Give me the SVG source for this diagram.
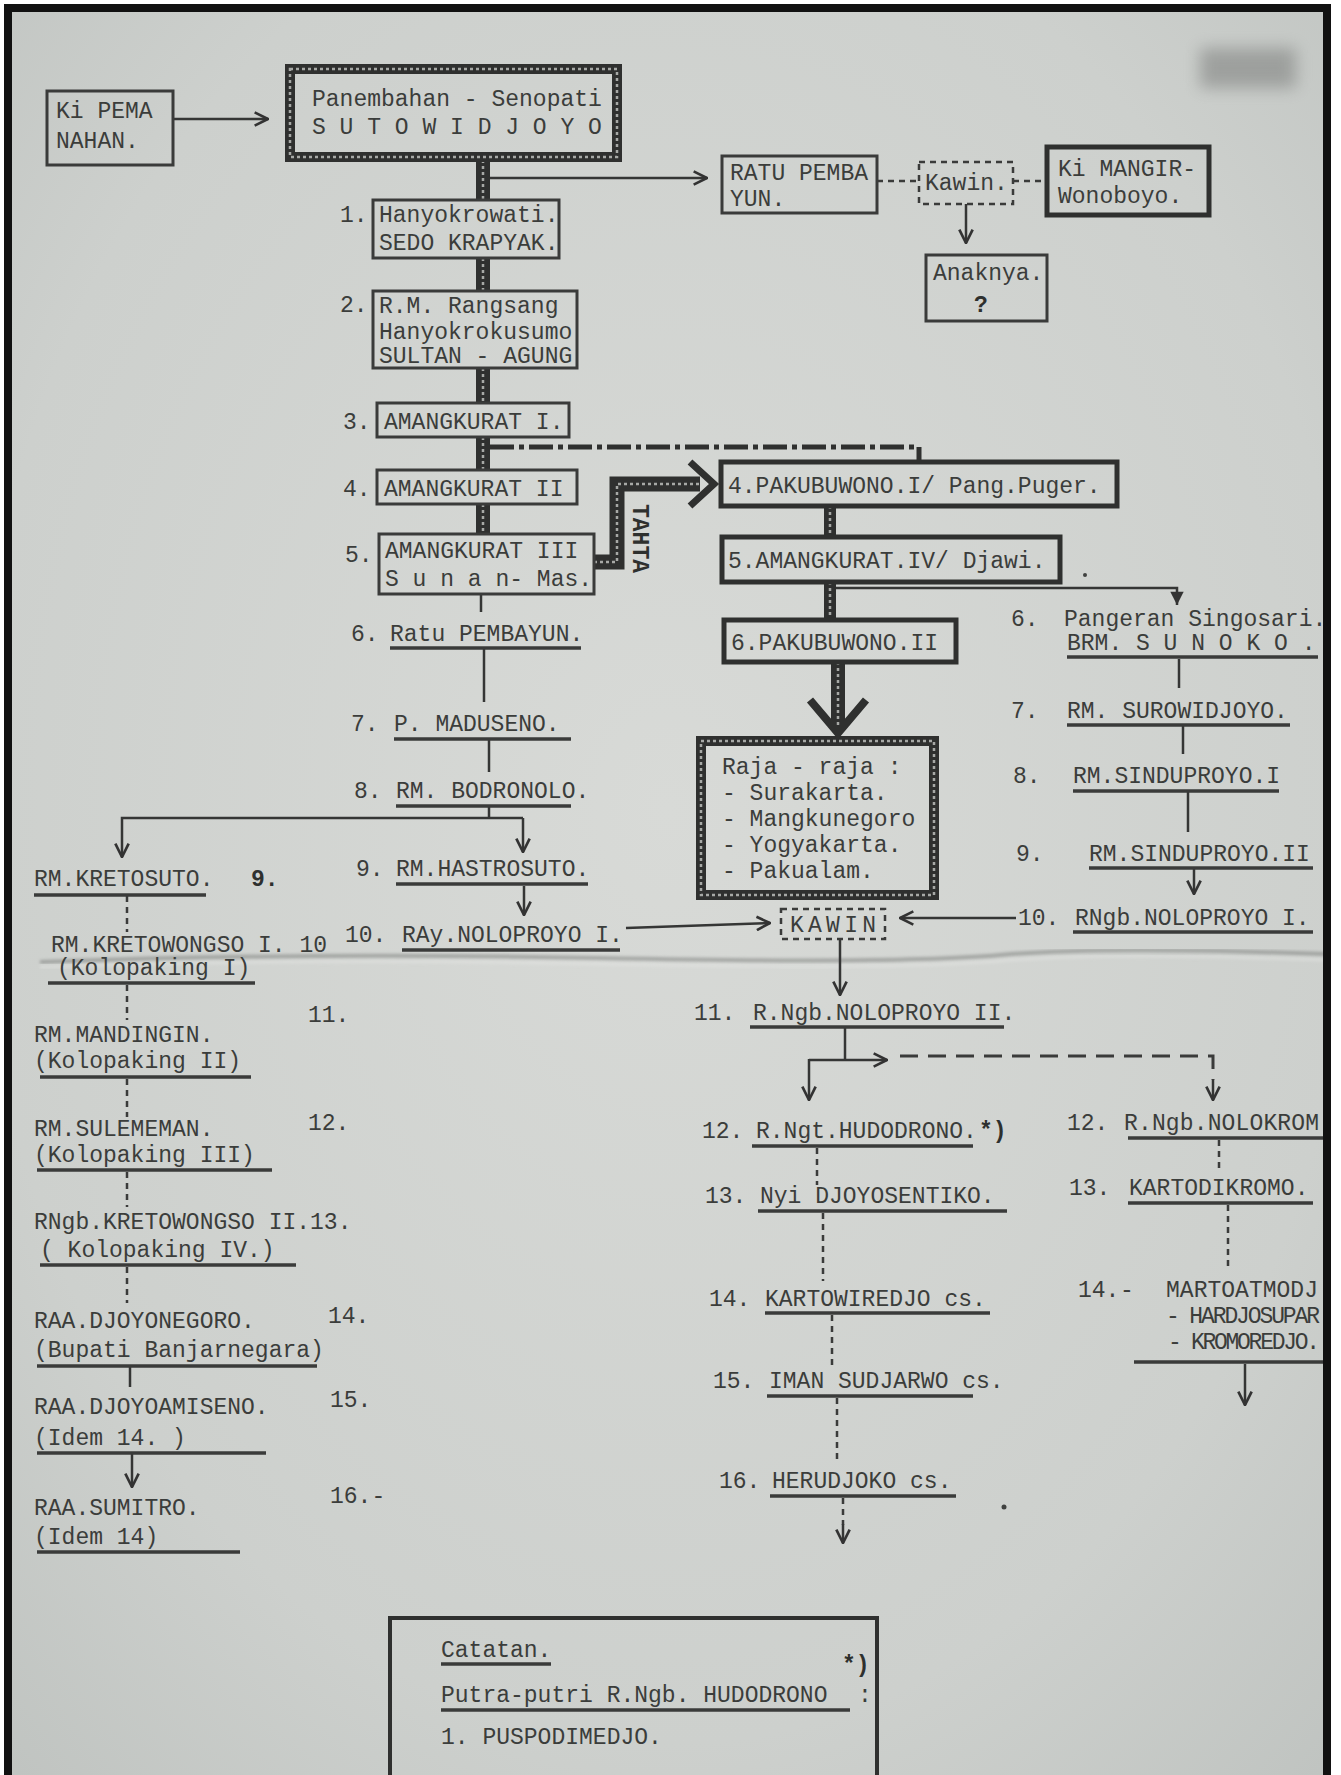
<svg xmlns="http://www.w3.org/2000/svg" width="1341" height="1775" viewBox="0 0 1341 1775">
<defs>
<radialGradient id="paper" cx="0.5" cy="0.45" r="0.75">
<stop offset="0" stop-color="#d8dad7"/>
<stop offset="0.7" stop-color="#cdd0cd"/>
<stop offset="1" stop-color="#bfc3c0"/>
</radialGradient>
<filter id="blur" x="-50%" y="-50%" width="200%" height="200%"><feGaussianBlur stdDeviation="8"/></filter>
<filter id="soft"><feGaussianBlur stdDeviation="1.5"/></filter>
<marker id="ar" viewBox="0 0 12 12" refX="11" refY="6" markerWidth="16" markerHeight="16" markerUnits="userSpaceOnUse" orient="auto">
<path d="M1,1 L11,6 L1,11" fill="none" stroke="#333" stroke-width="2"/>
</marker>
<marker id="arf" viewBox="0 0 12 12" refX="11" refY="6" markerWidth="16" markerHeight="16" markerUnits="userSpaceOnUse" orient="auto">
<path d="M1,1 L11,6 L1,11 Z" fill="#333"/>
</marker>
<clipPath id="frameclip"><rect x="8" y="8" width="1319" height="1767"/></clipPath>
</defs>
<style>
.t{font-family:"Liberation Mono","DejaVu Sans Mono",monospace;font-size:23px;fill:#3b3d3b}
.bd{font-weight:bold;fill:#2e302e}
.bx{fill:none;stroke:#3a3b3a;stroke-width:3}
.bx5{fill:none;stroke:#2f302f;stroke-width:5}
.hb{fill:none;stroke:#2f302f}
.hd{fill:none;stroke:#a7a9a6;stroke-width:2.5;stroke-dasharray:3 3}
.ln{fill:none;stroke:#353635;stroke-width:2.5}
.ul{fill:none;stroke:#3a3b3a;stroke-width:3.5}
.dl{fill:none;stroke:#3a3b3a;stroke-width:2.5;stroke-dasharray:6 5}
.ds{fill:none;stroke:#3a3b3a;stroke-width:3;stroke-dasharray:18 10}
</style>
<rect x="0" y="0" width="1341" height="1775" fill="#ffffff"/>
<rect x="8" y="8" width="1319" height="1780" fill="url(#paper)"/>
<rect x="1200" y="48" width="96" height="40" fill="#6a6c6a" opacity="0.45" filter="url(#blur)"/>
<path d="M40,962 Q300,952 600,958 T1000,955 T1327,954" fill="none" stroke="#7e807e" stroke-width="4" opacity="0.55" filter="url(#soft)"/>
<path d="M40,967 Q300,958 600,964 T1000,961 T1327,960" fill="none" stroke="#e4e5e3" stroke-width="3" opacity="0.5" filter="url(#soft)"/>

<g id="connectors" clip-path="url(#frameclip)">
<line class="ln" x1="173" y1="119" x2="268" y2="119" marker-end="url(#ar)"/>
<path class="hb" stroke-width="14" d="M483,160 V200 M483,258 V291 M483,368 V403 M483,437 V470 M483,504 V534"/>
<path class="hd" d="M483,160 V200 M483,258 V291 M483,368 V403 M483,437 V470 M483,504 V534"/>
<line class="ln" x1="490" y1="178" x2="707" y2="178" marker-end="url(#ar)"/>
<line class="dl" x1="877" y1="181" x2="919" y2="181"/>
<line class="dl" x1="1013" y1="181" x2="1047" y2="181"/>
<line class="ln" x1="966" y1="204" x2="966" y2="243" marker-end="url(#ar)"/>
<path d="M490,447 H919 V462" fill="none" stroke="#2f302f" stroke-width="5" stroke-dasharray="24 5 5 5"/>
<path class="hb" stroke-width="15" d="M594,562 H617 V484 H700"/>
<path class="hd" d="M594,562 H617 V484 H700"/>
<path d="M690,462 L714,484 L690,506" fill="none" stroke="#2f302f" stroke-width="7"/>
<line class="hb" stroke-width="12" x1="830" y1="506" x2="830" y2="537"/>
<line class="hd" x1="830" y1="506" x2="830" y2="537"/>
<line class="hb" stroke-width="12" x1="830" y1="582" x2="830" y2="620"/>
<line class="hd" x1="830" y1="582" x2="830" y2="620"/>
<path class="ln" stroke-width="3" d="M836,588 H1177 V605" marker-end="url(#arf)"/>
<line class="hb" stroke-width="14" x1="838" y1="662" x2="838" y2="728"/>
<line class="hd" x1="838" y1="662" x2="838" y2="728"/>
<path d="M810,700 L838,733 L866,700" fill="none" stroke="#2f302f" stroke-width="8"/>
<line class="ln" x1="481" y1="594" x2="481" y2="612"/>
<line class="ln" x1="484" y1="649" x2="484" y2="702"/>
<line class="ln" x1="489" y1="740" x2="489" y2="772"/>
<line class="ln" x1="489" y1="806" x2="489" y2="818"/>
<path class="ln" d="M523,818 H122 V857" marker-end="url(#ar)"/>
<line class="ln" x1="523" y1="818" x2="523" y2="852" marker-end="url(#ar)"/>
<line class="ln" x1="524" y1="886" x2="524" y2="915" marker-end="url(#ar)"/>
<line class="ln" x1="626" y1="928" x2="770" y2="923" marker-end="url(#ar)"/>
<line class="ln" x1="1016" y1="918" x2="900" y2="918" marker-end="url(#ar)"/>
<line class="ln" x1="1179" y1="659" x2="1179" y2="688"/>
<line class="ln" x1="1183" y1="726" x2="1183" y2="754"/>
<line class="ln" x1="1188" y1="792" x2="1188" y2="832"/>
<line class="ln" x1="1194" y1="869" x2="1194" y2="894" marker-end="url(#ar)"/>
<line class="ln" x1="840" y1="939" x2="840" y2="995" marker-end="url(#ar)"/>
<line class="dl" x1="127" y1="896" x2="127" y2="932"/>
<line class="dl" x1="127" y1="985" x2="127" y2="1020"/>
<line class="dl" x1="127" y1="1079" x2="127" y2="1117"/>
<line class="dl" x1="127" y1="1172" x2="127" y2="1207"/>
<line class="dl" x1="127" y1="1267" x2="127" y2="1303"/>
<line class="ln" x1="130" y1="1367" x2="130" y2="1387"/>
<line class="ln" x1="132" y1="1453" x2="132" y2="1487" marker-end="url(#ar)"/>
<line class="ln" x1="845" y1="1028" x2="845" y2="1060"/>
<line class="ln" x1="809" y1="1060" x2="887" y2="1060" marker-end="url(#ar)"/>
<line class="ln" x1="809" y1="1059" x2="809" y2="1100" marker-end="url(#ar)"/>
<path class="ds" d="M900,1056 H1213 V1080"/>
<line class="ln" x1="1213" y1="1080" x2="1213" y2="1100" marker-end="url(#ar)"/>
<line class="dl" x1="817" y1="1148" x2="817" y2="1185"/>
<line class="dl" x1="823" y1="1213" x2="823" y2="1281"/>
<line class="dl" x1="832" y1="1315" x2="832" y2="1366"/>
<line class="dl" x1="837" y1="1398" x2="837" y2="1464"/>
<line class="dl" x1="843" y1="1498" x2="843" y2="1525"/>
<line class="ln" x1="843" y1="1524" x2="843" y2="1543" marker-end="url(#ar)"/>
<line class="dl" x1="1219" y1="1140" x2="1219" y2="1173"/>
<line class="dl" x1="1228" y1="1205" x2="1228" y2="1268"/>
<line class="ln" x1="1245" y1="1364" x2="1245" y2="1405" marker-end="url(#ar)"/>
</g>

<g id="ki-pemanahan">
<rect class="bx" x="47" y="91" width="126" height="74"/>
<text class="t" x="56" y="118">Ki PEMA</text>
<text class="t" x="56" y="148">NAHAN.</text>
</g>
<g id="senopati">
<rect class="hb" stroke-width="10" x="290" y="69" width="327" height="88"/>
<rect class="hd" x="290" y="69" width="327" height="88"/>
<text class="t" x="312" y="106">Panembahan - Senopati</text>
<text class="t" x="312" y="134">S U T O W I D J O Y O</text>
</g>
<g id="ratu-pembayun-1">
<rect class="bx" x="722" y="156" width="155" height="57"/>
<text class="t" x="730" y="180">RATU PEMBA</text>
<text class="t" x="730" y="206">YUN.</text>
</g>
<g id="kawin-1">
<rect class="dl" x="919" y="162" width="94" height="42"/>
<text class="t" x="925" y="190">Kawin.</text>
</g>
<g id="ki-mangir">
<rect class="bx5" x="1047" y="147" width="162" height="68"/>
<text class="t" x="1058" y="176">Ki MANGIR-</text>
<text class="t" x="1058" y="203">Wonoboyo.</text>
</g>
<g id="anaknya">
<rect class="bx" x="926" y="255" width="121" height="66"/>
<text class="t" x="933" y="280">Anaknya.</text>
<text class="t bd" x="974" y="312" font-size="32">?</text>
</g>
<g id="sultan-1">
<text class="t" x="340" y="222">1.</text>
<rect class="bx" x="373" y="200" width="186" height="58"/>
<text class="t" x="379" y="222">Hanyokrowati.</text>
<text class="t" x="379" y="250">SEDO KRAPYAK.</text>
</g>
<g id="sultan-2">
<text class="t" x="340" y="312">2.</text>
<rect class="bx" x="373" y="291" width="204" height="77"/>
<text class="t" x="379" y="313">R.M. Rangsang</text>
<text class="t" x="379" y="339">Hanyokrokusumo</text>
<text class="t" x="379" y="363">SULTAN - AGUNG</text>
</g>
<g id="sultan-3">
<text class="t" x="343" y="429">3.</text>
<rect class="bx" x="377" y="403" width="192" height="34"/>
<text class="t" x="384" y="429">AMANGKURAT I.</text>
</g>
<g id="sultan-4">
<text class="t" x="343" y="496">4.</text>
<rect class="bx" x="377" y="470" width="200" height="34"/>
<text class="t" x="384" y="496">AMANGKURAT II</text>
</g>
<g id="sultan-5">
<text class="t" x="345" y="562">5.</text>
<rect class="bx" x="379" y="534" width="215" height="60"/>
<text class="t" x="385" y="558">AMANGKURAT III</text>
<text class="t" x="385" y="586">S u n a n- Mas.</text>
</g>
<g id="tahta">
<text class="t bd" x="633" y="504" font-size="15" transform="rotate(90 633 504)">TAHTA</text>
</g>
<g id="pakubuwono-1">
<rect class="bx5" x="721" y="462" width="396" height="44"/>
<text class="t" x="728" y="493">4.PAKUBUWONO.I/ Pang.Puger.</text>
</g>
<g id="amangkurat-4">
<rect class="bx5" x="722" y="537" width="338" height="45"/>
<text class="t" x="728" y="568">5.AMANGKURAT.IV/ Djawi.</text>
<circle cx="1085" cy="575" r="2" fill="#404240"/>
</g>
<g id="pakubuwono-2">
<rect class="bx5" x="724" y="620" width="232" height="42"/>
<text class="t" x="731" y="650">6.PAKUBUWONO.II</text>
</g>
<g id="raja-raja">
<rect class="hb" stroke-width="10" x="701" y="741" width="233" height="154"/>
<rect class="hd" x="701" y="741" width="233" height="154"/>
<text class="t" x="722" y="774">Raja - raja :</text>
<text class="t" x="722" y="800">- Surakarta.</text>
<text class="t" x="722" y="826">- Mangkunegoro</text>
<text class="t" x="722" y="852">- Yogyakarta.</text>
<text class="t" x="722" y="878">- Pakualam.</text>
</g>
<g id="singosari">
<text class="t" x="1011" y="626">6.</text>
<text class="t" x="1064" y="626">Pangeran Singosari.</text>
<text class="t" x="1067" y="650">BRM. S U N O K O .</text>
<line class="ul" x1="1067" y1="657" x2="1318" y2="657"/>
</g>
<g id="surowidjoyo">
<text class="t" x="1011" y="718">7.</text>
<text class="t" x="1067" y="718">RM. SUROWIDJOYO.</text>
<line class="ul" x1="1067" y1="725" x2="1290" y2="725"/>
</g>
<g id="sinduproyo-1">
<text class="t" x="1013" y="783">8.</text>
<text class="t" x="1073" y="783">RM.SINDUPROYO.I</text>
<line class="ul" x1="1073" y1="791" x2="1279" y2="791"/>
</g>
<g id="sinduproyo-2">
<text class="t" x="1016" y="861">9.</text>
<text class="t" x="1089" y="861">RM.SINDUPROYO.II</text>
<line class="ul" x1="1089" y1="868" x2="1313" y2="868"/>
</g>
<g id="noloproyo-1-r">
<text class="t" x="1018" y="925">10.</text>
<text class="t" x="1075" y="925">RNgb.NOLOPROYO I.</text>
<line class="ul" x1="1073" y1="932" x2="1313" y2="932"/>
</g>
<g id="kawin-2">
<rect class="dl" x="781" y="909" width="104" height="30"/>
<text class="t" x="790" y="932" textLength="86" font-size="21">KAWIN</text>
</g>
<g id="ratu-pembayun-6">
<text class="t" x="351" y="641">6.</text>
<text class="t" x="390" y="641">Ratu PEMBAYUN.</text>
<line class="ul" x1="390" y1="648" x2="581" y2="648"/>
</g>
<g id="maduseno">
<text class="t" x="351" y="731">7.</text>
<text class="t" x="394" y="731">P. MADUSENO.</text>
<line class="ul" x1="394" y1="739" x2="571" y2="739"/>
</g>
<g id="bodronolo">
<text class="t" x="354" y="798">8.</text>
<text class="t" x="396" y="798">RM. BODRONOLO.</text>
<line class="ul" x1="396" y1="806" x2="571" y2="806"/>
</g>
<g id="hastrosuto">
<text class="t" x="356" y="876">9.</text>
<text class="t" x="396" y="876">RM.HASTROSUTO.</text>
<line class="ul" x1="396" y1="884" x2="588" y2="884"/>
</g>
<g id="ray-noloproyo-1">
<text class="t" x="345" y="942">10.</text>
<text class="t" x="402" y="942">RAy.NOLOPROYO I.</text>
<line class="ul" x1="402" y1="950" x2="620" y2="950"/>
</g>
<g id="kretosuto">
<text class="t" x="34" y="886">RM.KRETOSUTO.</text>
<text class="t bd" x="251" y="886">9.</text>
<line class="ul" x1="34" y1="895" x2="206" y2="895"/>
</g>
<g id="kretowongso-1">
<text class="t" x="51" y="952">RM.KRETOWONGSO I. 10</text>
<text class="t" x="57" y="975">(Kolopaking I)</text>
<line class="ul" x1="48" y1="983" x2="255" y2="983"/>
</g>
<g id="mandingin">
<text class="t" x="308" y="1022">11.</text>
<text class="t" x="34" y="1042">RM.MANDINGIN.</text>
<text class="t" x="34" y="1068">(Kolopaking II)</text>
<line class="ul" x1="40" y1="1077" x2="251" y2="1077"/>
</g>
<g id="sulememan">
<text class="t" x="308" y="1130">12.</text>
<text class="t" x="34" y="1136">RM.SULEMEMAN.</text>
<text class="t" x="34" y="1162">(Kolopaking III)</text>
<line class="ul" x1="37" y1="1170" x2="272" y2="1170"/>
</g>
<g id="kretowongso-2">
<text class="t" x="34" y="1229">RNgb.KRETOWONGSO II.13.</text>
<text class="t" x="40" y="1257">( Kolopaking IV.)</text>
<line class="ul" x1="40" y1="1265" x2="296" y2="1265"/>
</g>
<g id="djoyonegoro">
<text class="t" x="34" y="1328">RAA.DJOYONEGORO.</text>
<text class="t" x="328" y="1323">14.</text>
<text class="t" x="34" y="1357">(Bupati Banjarnegara)</text>
<line class="ul" x1="37" y1="1366" x2="317" y2="1366"/>
</g>
<g id="djoyoamiseno">
<text class="t" x="34" y="1414">RAA.DJOYOAMISENO.</text>
<text class="t" x="330" y="1407">15.</text>
<text class="t" x="34" y="1445">(Idem 14. )</text>
<line class="ul" x1="37" y1="1453" x2="266" y2="1453"/>
</g>
<g id="sumitro">
<text class="t" x="34" y="1515">RAA.SUMITRO.</text>
<text class="t" x="330" y="1503">16.-</text>
<text class="t" x="34" y="1544">(Idem 14)</text>
<line class="ul" x1="37" y1="1552" x2="240" y2="1552"/>
</g>
<g id="noloproyo-2">
<text class="t" x="694" y="1020">11.</text>
<text class="t" x="753" y="1020">R.Ngb.NOLOPROYO II.</text>
<line class="ul" x1="750" y1="1027" x2="1004" y2="1027"/>
</g>
<g id="hudodrono">
<text class="t" x="702" y="1138">12.</text>
<text class="t" x="756" y="1138">R.Ngt.HUDODRONO.</text>
<text class="t bd" x="979" y="1138" font-size="26">*)</text>
<line class="ul" x1="752" y1="1146" x2="973" y2="1146"/>
</g>
<g id="djoyosentiko">
<text class="t" x="705" y="1203">13.</text>
<text class="t" x="760" y="1203">Nyi  DJOYOSENTIKO.</text>
<line class="ul" x1="758" y1="1211" x2="1007" y2="1211"/>
</g>
<g id="kartowiredjo">
<text class="t" x="709" y="1306">14.</text>
<text class="t" x="765" y="1306">KARTOWIREDJO cs.</text>
<line class="ul" x1="765" y1="1313" x2="990" y2="1313"/>
</g>
<g id="iman-sudjarwo">
<text class="t" x="713" y="1388">15.</text>
<text class="t" x="769" y="1388">IMAN SUDJARWO cs.</text>
<line class="ul" x1="767" y1="1396" x2="973" y2="1396"/>
</g>
<g id="herudjoko">
<text class="t" x="719" y="1488">16.</text>
<text class="t" x="772" y="1488">HERUDJOKO cs.</text>
<line class="ul" x1="770" y1="1496" x2="956" y2="1496"/>
<circle cx="1004" cy="1507" r="2.5" fill="#404240"/>
</g>
<g id="right-lower">
<g id="nolokromo">
<text class="t" x="1067" y="1130">12.</text>
<text class="t" x="1124" y="1130" textLength="195">R.Ngb.NOLOKROM</text>
<line class="ul" x1="1128" y1="1138" x2="1325" y2="1138"/>
</g>
<g id="kartodikromo">
<text class="t" x="1069" y="1195">13.</text>
<text class="t" x="1129" y="1195">KARTODIKROMO.</text>
<line class="ul" x1="1128" y1="1203" x2="1313" y2="1203"/>
</g>
<g id="martoatmodjo">
<text class="t" x="1078" y="1297">14.</text>
<text class="t" x="1120" y="1297">-</text>
<text class="t" x="1166" y="1297" textLength="152">MARTOATMODJ</text>
<text class="t" x="1166" y="1323" textLength="154">- HARDJOSUPAR</text>
<text class="t" x="1168" y="1349" textLength="152">- KROMOREDJO.</text>
<line class="ul" x1="1134" y1="1362" x2="1325" y2="1362"/>
</g>
</g>
<g id="catatan">
<rect x="390" y="1618" width="487" height="200" fill="none" stroke="#2f302f" stroke-width="4"/>
<text class="t" x="441" y="1657">Catatan.</text>
<line class="ul" x1="441" y1="1664" x2="551" y2="1664"/>
<text class="t bd" x="842" y="1672" font-size="24">*)</text>
<text class="t" x="441" y="1702">Putra-putri R.Ngb. HUDODRONO</text>
<text class="t" x="858" y="1702">:</text>
<line class="ul" x1="441" y1="1710" x2="850" y2="1710" stroke-width="5"/>
<text class="t" x="441" y="1744">1. PUSPODIMEDJO.</text>
</g>
<rect x="8" y="8" width="1319" height="1780" fill="none" stroke="#111" stroke-width="8"/>
</svg>
